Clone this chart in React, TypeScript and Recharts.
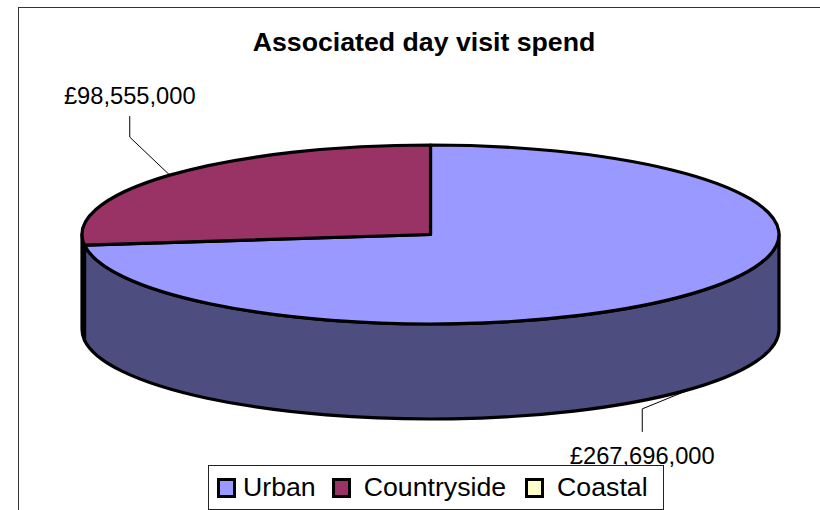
import React from "react";
import { PieChart, Pie, Cell, Legend } from "recharts";

const categories = ["Urban", "Countryside", "Coastal"];
const spend = [267696000, 98555000, 0];
const valueLabels = ["£267,696,000", "£98,555,000", "£0"];
const topColors = ["#9999FF", "#993366", "#FFFFCC"];
const wallColors = ["#4D4D80", "#4D1933", "#808066"];

const rows = categories.map((name, i) => ({ name, value: spend[i], fill: topColors[i], wall: wallColors[i] }));

const W = 820;
const H = 510;
const CX = 430.5;
const CY = 234.5;
const RX = 348.5;
const SQUASH = 89.5 / 348.5;
const DEPTH = 95;
const FONT = "'Liberation Sans', Arial, sans-serif";
const RAD = Math.PI / 180;
const EDGE = 3.2;

function pt(cx: number, cy: number, r: number, deg: number, dy = 0) {
  return { x: cx + r * Math.cos(deg * RAD), y: cy - r * SQUASH * Math.sin(deg * RAD) + dy };
}

function EllipseSector(props: any) {
  const { cx, cy, outerRadius: r, startAngle: s, endAngle: e, fill, payload } = props;
  if (Math.abs(s - e) < 1e-6) return null;
  const ry = r * SQUASH;
  const a = pt(cx, cy, r, s);
  const b = pt(cx, cy, r, e);
  const large = Math.abs(s - e) > 180 ? 1 : 0;
  const top = `M${cx},${cy}L${a.x},${a.y}A${r},${ry} 0 ${large} 1 ${b.x},${b.y}Z`;
  const ws = Math.min(s, 0);
  const we = Math.max(e, -180);
  let wall = null;
  if (ws > we) {
    const p = pt(cx, cy, r, ws);
    const q = pt(cx, cy, r, we);
    const d = `M${p.x},${p.y}A${r},${ry} 0 0 1 ${q.x},${q.y}L${q.x},${q.y + DEPTH}A${r},${ry} 0 0 0 ${p.x},${p.y + DEPTH}Z`;
    wall = <path d={d} fill={payload?.wall ?? "#4D4D80"} stroke="#000" strokeWidth={EDGE} strokeLinejoin="round" />;
  }
  return (
    <g>
      {wall}
      <path d={top} fill={fill} stroke="#000" strokeWidth={EDGE} strokeLinejoin="round" />
    </g>
  );
}

const LEADERS = [
  { elbowDx: -49, elbowDy: 20, endDy: 43, textDy: 75, wall: DEPTH },
  { elbowDx: -40, elbowDy: -38, endDy: -59, textDy: -71, wall: 0 },
];

function ValueLabel(props: any) {
  const { cx, cy, outerRadius, midAngle, index } = props;
  const l = LEADERS[index];
  if (!l || !spend[index]) return null;
  const p = pt(cx, cy, outerRadius, midAngle, l.wall);
  const ex = p.x + l.elbowDx;
  return (
    <g>
      <polyline
        points={`${p.x},${p.y} ${ex},${p.y + l.elbowDy} ${ex},${p.y + l.endDy}`}
        fill="none"
        stroke="#000"
        strokeWidth={1}
      />
      <text x={ex} y={p.y + l.textDy} textAnchor="middle" fontFamily={FONT} fontSize={23.7} fill="#000">
        {valueLabels[index]}
      </text>
    </g>
  );
}

const ITEM_GAPS = [8, 16, 19];
const SWATCH_GAPS = [7, 13, 13];

function LegendBox(props: any) {
  const items = props.payload ?? [];
  return (
    <div
      style={{
        boxSizing: "border-box",
        width: "100%",
        height: "100%",
        background: "#fff",
        border: "1.5px solid #222",
        display: "flex",
        alignItems: "center",
        fontFamily: FONT,
        fontSize: 26.7,
        color: "#000",
        whiteSpace: "nowrap",
      }}
    >
      {items.map((it: any, i: number) => (
        <div key={it.value} style={{ display: "flex", alignItems: "center", marginLeft: ITEM_GAPS[i] }}>
          <span
            style={{
              boxSizing: "border-box",
              display: "inline-block",
              width: 19,
              height: 20,
              border: "3px solid #000",
              background: topColors[categories.indexOf(it.value)],
              marginRight: SWATCH_GAPS[i],
            }}
          />
          <span>{it.value}</span>
        </div>
      ))}
    </div>
  );
}

export default function App() {
  return (
    <div style={{ position: "absolute", left: 0, top: 0, width: W, height: H, overflow: "hidden", background: "#fff" }}>
      <div style={{ position: "absolute", left: 18, top: 7, width: W, height: H, boxSizing: "border-box", borderLeft: "1.5px solid #333", borderTop: "1.5px solid #333" }} />
      <div style={{ position: "absolute", left: 0, top: 0 }}>
        <PieChart width={W} height={H} margin={{ top: 0, right: 0, bottom: 0, left: 0 }}>
          <text x={424} y={51} textAnchor="middle" fontFamily={FONT} fontWeight="bold" fontSize={26.7} fill="#000">
            Associated day visit spend
          </text>
          <Pie
            data={rows}
            dataKey="value"
            nameKey="name"
            cx={CX}
            cy={CY}
            outerRadius={RX}
            startAngle={90}
            endAngle={-270}
            isAnimationActive={false}
            shape={EllipseSector}
            label={ValueLabel}
            labelLine={false}
            legendType="square"
          >
            {rows.map((r) => (
              <Cell key={r.name} fill={r.fill} />
            ))}
          </Pie>
          <Legend
            content={LegendBox}
            itemSorter={null}
            wrapperStyle={{ position: "absolute", left: 208, top: 465, width: 456, height: 45, bottom: "auto", right: "auto" }}
          />
        </PieChart>
      </div>
    </div>
  );
}
